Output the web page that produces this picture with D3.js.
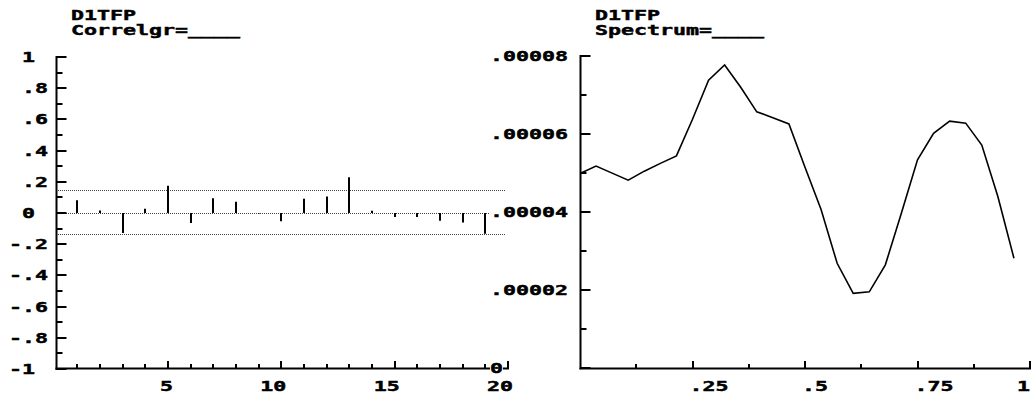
<!DOCTYPE html>
<html><head><meta charset="utf-8">
<script src="https://cdn.jsdelivr.net/npm/d3@7"></script>
<style>html,body{margin:0;padding:0;background:#fff;}svg{display:block;}</style>
</head><body>
<script>
// ---- Data ----
const acfLags = [1,2,3,4,5,6,7,8,9,10,11,12,13,14,15,16,17,18,19];
const acfValues = [0.081,0.016,-0.128,0.027,0.174,-0.064,0.094,0.072,-0.003,-0.053,0.092,0.106,0.229,0.015,-0.026,-0.026,-0.049,-0.061,-0.133];
const confBands = [0.145, 0, -0.133];
const leftYTickValues = [1,0.8,0.6,0.4,0.2,0,-0.2,-0.4,-0.6,-0.8,-1];
const leftYTickLabels = ["1",".8",".6",".4",".2","0","-.2","-.4","-.6","-.8","-1"];
const leftXTickValues = [5,10,15,20];
const leftXTickLabels = ["5","10","15","20"];

const specFreq = [0,1,2,3,4,5,6,7,8,9,10,11,12,13,14,15,16,17,18,19,20,21,22,23,24,25,26,27].map(k=>k/28);
const specValues = [4.99,5.18,5.0,4.82,5.05,5.25,5.44,6.38,7.38,7.77,7.2,6.57,6.42,6.26,5.15,4.07,2.69,1.92,1.96,2.65,3.98,5.34,6.02,6.33,6.28,5.72,4.4,2.82].map(v=>v*1e-5);
const rightYTickValues = [0.00008,0.00006,0.00004,0.00002,0];
const rightYTickLabels = [".00008",".00006",".00004",".00002","0"];
const rightXTickValues = [0.25,0.5,0.75,1];
const rightXTickLabels = [".25",".5",".75","1"];

const titleLeft = ["D1TFP","Correlgr=____"];
const titleRight = ["D1TFP","Spectrum=____"];

// ---- Setup ----
const W=1031, H=396, PITCH=13, FONT="'DejaVu Sans Mono', monospace";
const svg = d3.select("body").append("svg").attr("width",W).attr("height",H);
svg.append("rect").attr("width",W).attr("height",H).attr("fill","#fff");

function monoText(g, str, x, y){
  return g.append("text").attr("x",x).attr("y",y)
    .attr("font-family",FONT).attr("font-weight","bold").attr("font-size",14)
    .attr("textLength", str.length*PITCH).attr("lengthAdjust","spacingAndGlyphs")
    .attr("fill","#000").attr("stroke","#000").attr("stroke-width",0.45).text(str);
}

// ---- Left panel: correlogram ----
const xL = d3.scaleLinear().domain([0,20]).range([54.7,508]);
const yL = d3.scaleLinear().domain([-1,1]).range([369,57]);
const gL = svg.append("g");

gL.selectAll("line.band").data(confBands).join("line")
  .attr("x1",58).attr("x2",505)
  .attr("y1",d=>Math.round(yL(d))+0.5).attr("y2",d=>Math.round(yL(d))+0.5)
  .attr("stroke","#444").attr("stroke-width",1).attr("stroke-dasharray","1,1");

gL.selectAll("line.bar").data(acfLags).join("line")
  .attr("x1",d=>Math.round(xL(d))).attr("x2",d=>Math.round(xL(d)))
  .attr("y1",yL(0)).attr("y2",(d,i)=>yL(acfValues[i]))
  .attr("stroke","#000").attr("stroke-width",2);

const axL = 56.5;
gL.append("line").attr("x1",axL).attr("x2",axL).attr("y1",yL(1)-1).attr("y2",yL(-1)+1).attr("stroke","#000").attr("stroke-width",2);
const leftMinor = d3.range(-10,11).map(i=>i/10);
gL.selectAll("line.ytick").data(leftMinor).join("line")
  .attr("x1",axL).attr("x2",d=>axL+(Math.round(d*10)%2===0?10:6))
  .attr("y1",d=>Math.round(yL(d))).attr("y2",d=>Math.round(yL(d)))
  .attr("stroke","#000").attr("stroke-width",2);
leftYTickValues.forEach((v,i)=>{
  const s=leftYTickLabels[i];
  monoText(gL, s, s[0]==="-"?9:22, yL(v)+5);
});
gL.append("line").attr("x1",axL-1).attr("x2",xL(20)+1).attr("y1",368.5).attr("y2",368.5).attr("stroke","#000").attr("stroke-width",2);
const leftXt = d3.range(1,21);
gL.selectAll("line.xtick").data(leftXt).join("line")
  .attr("x1",d=>Math.round(xL(d))).attr("x2",d=>Math.round(xL(d)))
  .attr("y1",368).attr("y2",d=>d%5===0?361:364)
  .attr("stroke","#000").attr("stroke-width",2);
leftXTickValues.forEach((v,i)=>{
  const s=leftXTickLabels[i];
  monoText(gL, s, xL(v)+5-s.length*PITCH, 391);
});
titleLeft.forEach((t,i)=>monoText(gL,t,71,20+i*15));

// ---- Right panel: spectrum ----
const xR = d3.scaleLinear().domain([0,1]).range([580,1030]);
const yR = d3.scaleLinear().domain([0,0.00008]).range([368.3,56]);
const gR = svg.append("g");
const axR = 580.5;

gR.append("path").datum(specFreq.map((f,i)=>[f,specValues[i]]))
  .attr("d", d3.line().x(d=>xR(d[0])).y(d=>yR(d[1])))
  .attr("fill","none").attr("stroke","#000").attr("stroke-width",1.6);

gR.append("line").attr("x1",axR).attr("x2",axR).attr("y1",yR(0.00008)-1).attr("y2",yR(0)+1).attr("stroke","#000").attr("stroke-width",2);
const rightMinor = d3.range(0,9).map(i=>i*1e-5);
gR.selectAll("line.ytick").data(rightMinor).join("line")
  .attr("x1",axR).attr("x2",(d,i)=>axR+(i%2===0?10:6))
  .attr("y1",d=>Math.round(yR(d))).attr("y2",d=>Math.round(yR(d)))
  .attr("stroke","#000").attr("stroke-width",2);
gR.append("line").attr("x1",axR-1).attr("x2",W).attr("y1",368.5).attr("y2",368.5).attr("stroke","#000").attr("stroke-width",2);
const rightXt = d3.range(1,9).map(i=>i/8);
gR.selectAll("line.xtick").data(rightXt).join("line")
  .attr("x1",d=>Math.round(xR(d))).attr("x2",d=>Math.round(xR(d)))
  .attr("y1",368).attr("y2",(d,i)=>i%2===1?361:364)
  .attr("stroke","#000").attr("stroke-width",2);
rightYTickValues.forEach((v,i)=>{
  const s=rightYTickLabels[i];
  const y=yR(v);
  gR.append("rect").attr("x",490).attr("y",y-6).attr("width",s.length*PITCH).attr("height",12).attr("fill","#fff");
  monoText(gR, s, 490, y+5);
});
rightXTickValues.forEach((v,i)=>{
  const s=rightXTickLabels[i];
  monoText(gR, s, Math.min(xR(v)-3, W-1-s.length*PITCH), 391);
});
titleRight.forEach((t,i)=>monoText(gR,t,595,20+i*15));
</script>
</body></html>
